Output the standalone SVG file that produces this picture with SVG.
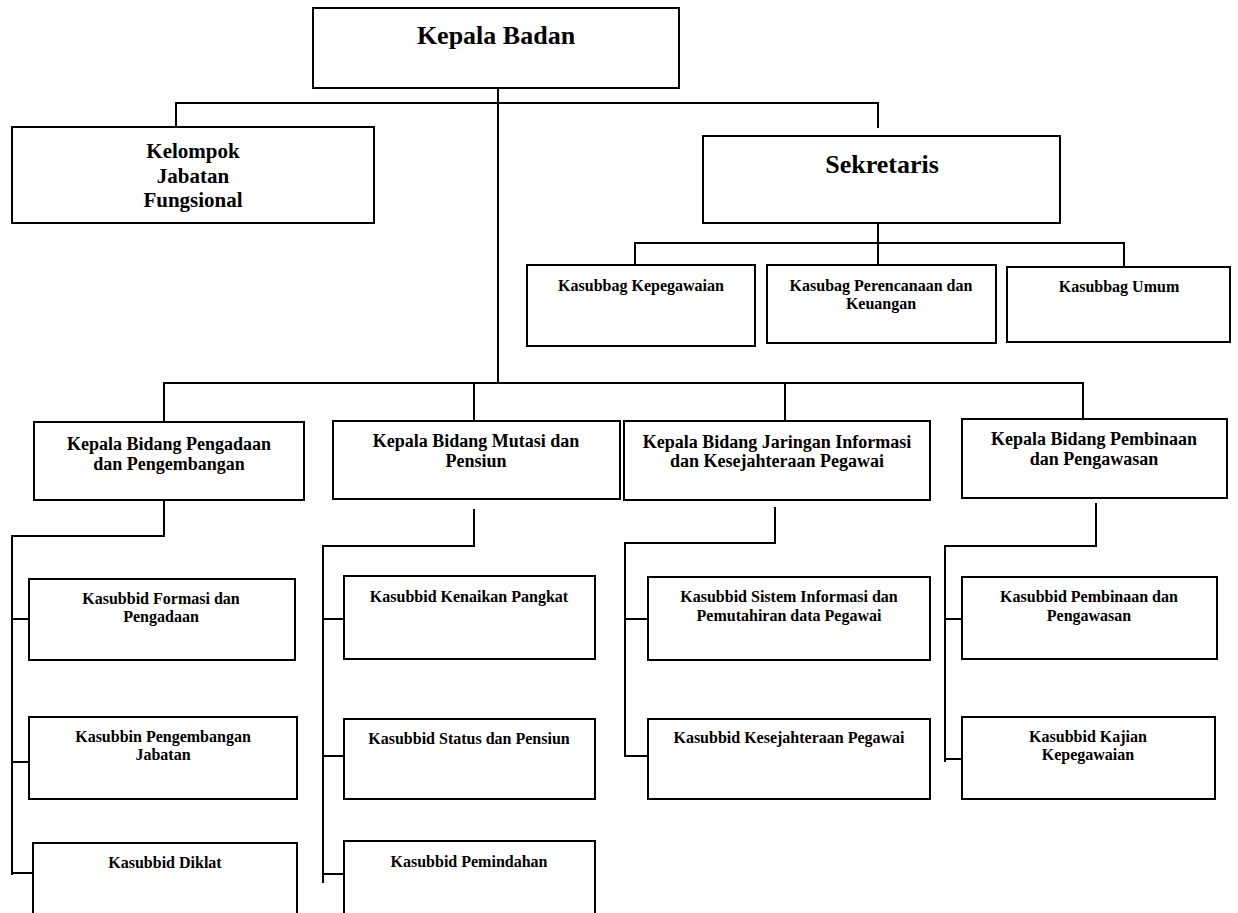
<svg xmlns="http://www.w3.org/2000/svg" width="1238" height="913" viewBox="0 0 1238 913">
<style>
.box{fill:#fff;stroke:#000;stroke-width:2}
.ln{fill:none;stroke:#000;stroke-width:2}
text{font-family:"Liberation Serif","Times New Roman",serif;font-weight:bold;fill:#000;text-anchor:middle}
.t1{font-size:26px}
.t2{font-size:21px}
.t3{font-size:18px}
.t4{font-size:16px}
</style>
<rect width="1238" height="913" fill="#fff"/>
<g id="connectors">
<path class="ln" d="M498 88V383"/>
<path class="ln" d="M176 128V103H878V128"/>
<path class="ln" d="M878 223V243"/>
<path class="ln" d="M635 265V243H1124V267M878 243V265"/>
<path class="ln" d="M164 421V383H1083V419M474 383V420M785 383V421"/>
<path class="ln" d="M164 500V536H12V875"/>
<path class="ln" d="M12 619H29M12 762H29M12 873H33"/>
<path class="ln" d="M474 509V546H323V883"/>
<path class="ln" d="M323 619H344M323 756H344M323 874H347"/>
<path class="ln" d="M775 507V543H625V756H648M625 619H648"/>
<path class="ln" d="M1096 503V546H945V762"/>
<path class="ln" d="M945 619H962M945 759H962"/>
</g>
<g id="kepala-badan"><rect class="box" x="313" y="8" width="366" height="80"/><text class="t1" x="496" y="44">Kepala Badan</text></g>
<g id="kelompok"><rect class="box" x="12" y="127" width="362" height="96"/><text class="t2" x="193" y="158">Kelompok</text><text class="t2" x="193" y="183">Jabatan</text><text class="t2" x="193" y="207">Fungsional</text></g>
<g id="sekretaris"><rect class="box" x="703" y="136" width="357" height="87"/><text class="t1" x="882" y="173">Sekretaris</text></g>
<g id="kasubbag-kepegawaian"><rect class="box" x="527" y="265" width="228" height="81"/><text class="t4" x="641" y="291">Kasubbag Kepegawaian</text></g>
<g id="kasubag-perencanaan"><rect class="box" x="767" y="265" width="229" height="78"/><text class="t4" x="881" y="291">Kasubag Perencanaan dan</text><text class="t4" x="881" y="309">Keuangan</text></g>
<g id="kasubbag-umum"><rect class="box" x="1007" y="267" width="223" height="75"/><text class="t4" x="1119" y="292">Kasubbag Umum</text></g>
<g id="kabid-pengadaan"><rect class="box" x="34" y="422" width="270" height="78"/><text class="t3" x="169" y="450">Kepala Bidang Pengadaan</text><text class="t3" x="169" y="470">dan Pengembangan</text></g>
<g id="kabid-mutasi"><rect class="box" x="333" y="421" width="287" height="78"/><text class="t3" x="476" y="447">Kepala Bidang Mutasi dan</text><text class="t3" x="476" y="467">Pensiun</text></g>
<g id="kabid-jaringan"><rect class="box" x="624" y="421" width="306" height="79"/><text class="t3" x="777" y="448">Kepala Bidang Jaringan Informasi</text><text class="t3" x="777" y="467">dan Kesejahteraan Pegawai</text></g>
<g id="kabid-pembinaan"><rect class="box" x="962" y="419" width="265" height="79"/><text class="t3" x="1094" y="445">Kepala Bidang Pembinaan</text><text class="t3" x="1094" y="465">dan Pengawasan</text></g>
<g id="kasubbid-formasi"><rect class="box" x="29" y="579" width="266" height="81"/><text class="t4" x="161" y="604">Kasubbid Formasi dan</text><text class="t4" x="161" y="622">Pengadaan</text></g>
<g id="kasubbin-pengembangan"><rect class="box" x="29" y="717" width="268" height="82"/><text class="t4" x="163" y="742">Kasubbin Pengembangan</text><text class="t4" x="163" y="760">Jabatan</text></g>
<g id="kasubbid-diklat"><rect class="box" x="33" y="843" width="264" height="80"/><text class="t4" x="165" y="868">Kasubbid Diklat</text></g>
<g id="kasubbid-kenaikan"><rect class="box" x="344" y="576" width="251" height="83"/><text class="t4" x="469" y="602">Kasubbid Kenaikan Pangkat</text></g>
<g id="kasubbid-status"><rect class="box" x="344" y="719" width="251" height="80"/><text class="t4" x="469" y="744">Kasubbid Status dan Pensiun</text></g>
<g id="kasubbid-pemindahan"><rect class="box" x="344" y="841" width="251" height="82"/><text class="t4" x="469" y="867">Kasubbid Pemindahan</text></g>
<g id="kasubbid-sistem"><rect class="box" x="648" y="577" width="282" height="83"/><text class="t4" x="789" y="602">Kasubbid Sistem Informasi dan</text><text class="t4" x="789" y="621">Pemutahiran data Pegawai</text></g>
<g id="kasubbid-kesejahteraan"><rect class="box" x="648" y="719" width="282" height="80"/><text class="t4" x="789" y="743">Kasubbid Kesejahteraan Pegawai</text></g>
<g id="kasubbid-pembinaan"><rect class="box" x="962" y="577" width="255" height="82"/><text class="t4" x="1089" y="602">Kasubbid Pembinaan dan</text><text class="t4" x="1089" y="621">Pengawasan</text></g>
<g id="kasubbid-kajian"><rect class="box" x="962" y="717" width="253" height="82"/><text class="t4" x="1088" y="742">Kasubbid Kajian</text><text class="t4" x="1088" y="760">Kepegawaian</text></g>
</svg>
